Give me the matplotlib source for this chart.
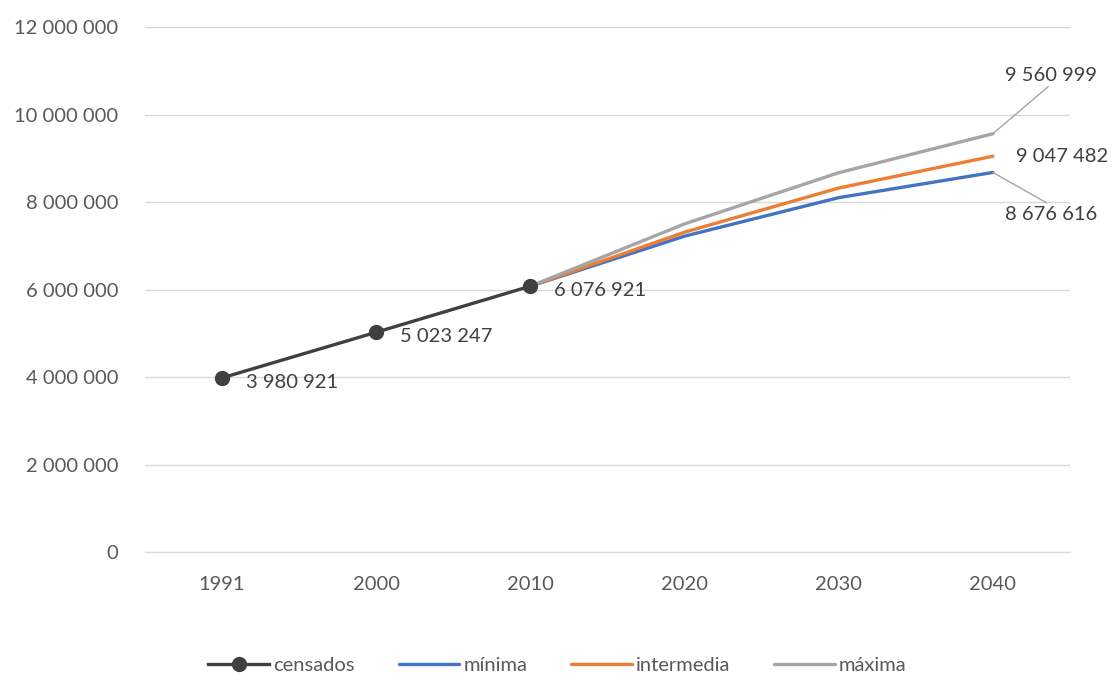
import numpy as np
import matplotlib.pyplot as plt

plt.rcParams["font.family"] = ["Lato", "DejaVu Sans"]

years = ["1991", "2000", "2010", "2020", "2030", "2040"]
censados = [3980921, 5023247, 6076921]
minima = [6076921, 7220000, 8100000, 8676616]
intermedia = [6076921, 7310000, 8320000, 9047482]
maxima = [6076921, 7500000, 8670000, 9560999]


def fmt(v):
    return "{:,}".format(int(v)).replace(",", " ")


fig = plt.figure(figsize=(11.15, 6.76), dpi=100)
ax = fig.add_axes([0.130, 0.1834, 0.8296, 0.7766])

x = np.arange(len(years))
xp = x[2:]
fs = 14.5

ax.plot(xp, minima, color="#4472C4", lw=2.4, label="mínima", solid_capstyle="round", zorder=3)
ax.plot(xp, intermedia, color="#ED7D31", lw=2.4, label="intermedia", solid_capstyle="round", zorder=3)
ax.plot(xp, maxima, color="#A5A5A5", lw=2.4, label="máxima", solid_capstyle="round", zorder=3)
ax.plot(x[:3], censados, color="#404040", lw=2.4, marker="o", ms=10, label="censados", zorder=4)

txt = "#404040"
for xi, v in zip(x[:3], censados):
    ax.annotate(fmt(v), (xi, v), xytext=(17, -3), textcoords="offset points",
                ha="left", va="center", fontsize=fs, color=txt)

ax.annotate(fmt(intermedia[-1]), (xp[-1], intermedia[-1]), xytext=(17, 0), textcoords="offset points",
            ha="left", va="center", fontsize=fs, color=txt)
ax.annotate(fmt(maxima[-1]), (xp[-1], maxima[-1]), xytext=(9, 42), textcoords="offset points",
            ha="left", va="center", fontsize=fs, color=txt,
            arrowprops=dict(arrowstyle="-", color="#A5A5A5", lw=1, shrinkA=0, shrinkB=0,
                            relpos=(0.5, 0)))
ax.annotate(fmt(minima[-1]), (xp[-1], minima[-1]), xytext=(9, -30), textcoords="offset points",
            ha="left", va="center", fontsize=fs, color=txt,
            arrowprops=dict(arrowstyle="-", color="#A5A5A5", lw=1, shrinkA=0, shrinkB=0,
                            relpos=(0.5, 1)))

ax.set_xlim(-0.5, 5.5)
ax.set_ylim(0, 12000000)
ax.set_yticks(np.arange(0, 12000001, 2000000))
ax.set_yticklabels([fmt(v) for v in np.arange(0, 12000001, 2000000)])
ax.set_xticks(x)
ax.set_xticklabels(years)
ax.grid(axis="y", color="#D9D9D9", lw=1)
ax.set_axisbelow(True)
for s in ["top", "right", "left"]:
    ax.spines[s].set_visible(False)
ax.spines["bottom"].set_color("#D9D9D9")
ax.tick_params(axis="both", length=0, labelsize=fs, labelcolor="#595959")
ax.tick_params(axis="y", pad=19)
ax.tick_params(axis="x", pad=17)

h, l = ax.get_legend_handles_labels()
order = [3, 0, 1, 2]
fig.legend([h[i] for i in order], [l[i] for i in order], loc="center", bbox_to_anchor=(0.5, 0.016),
           ncol=4, frameon=False, fontsize=fs, handlelength=3.0, handletextpad=0.2,
           columnspacing=2.2, labelcolor="#595959")

fig.savefig("out.png", dpi=100)
